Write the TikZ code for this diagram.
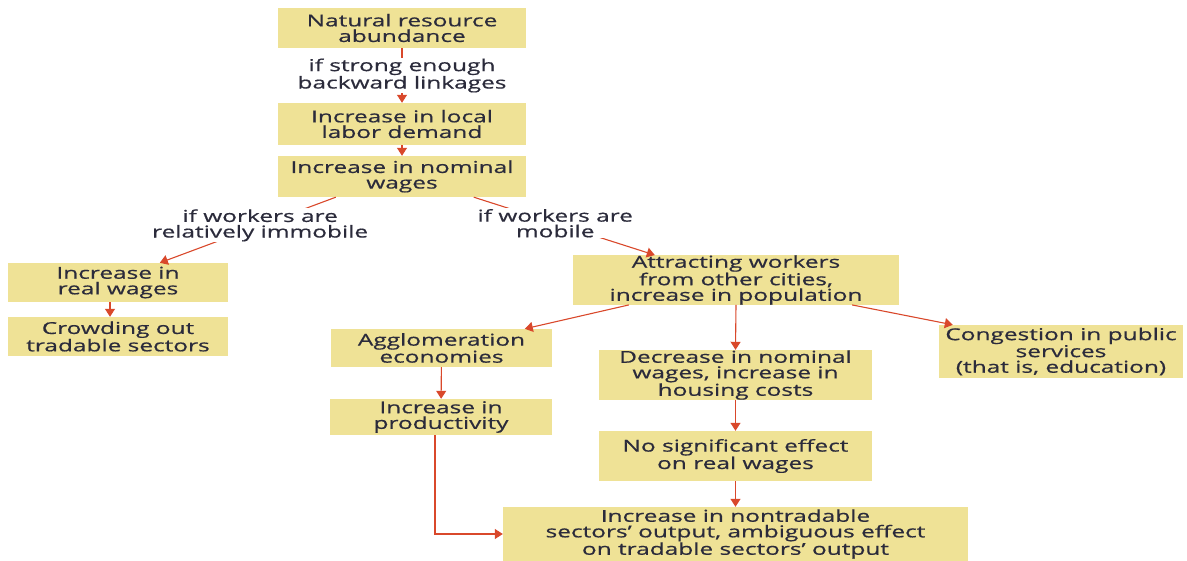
\documentclass[tikz,border=0pt]{standalone}
\usepackage{fontspec}
\setmainfont{Open Sans}[FakeStretch=1.49, FakeBold=0.6]
\usetikzlibrary{arrows.meta}
\definecolor{boxfill}{HTML}{EFE296}
\definecolor{arrowred}{HTML}{D9482B}
\definecolor{inktext}{HTML}{2B2B3B}
\tikzset{
  box/.style={fill=boxfill, inner sep=0pt, align=center, text=inktext,
    font=\fontsize{16.4}{15.6}\selectfont},
  lbl/.style={fill=white, inner sep=1pt, align=center, text=inktext,
    font=\fontsize{16.4}{15.6}\selectfont},
  arr/.style={draw=arrowred, line width=1.1pt, -{Triangle[length=8pt,width=10pt]}},
}
\begin{document}
\begin{tikzpicture}[x=1pt, y=-1pt]
  \useasboundingbox (0,0) rectangle (1187,561);
  % boxes
  \node[box, minimum width=248, minimum height=40] (nat) at (402,28) {Natural resource\\abundance};
  \node[box, minimum width=248, minimum height=42] (local) at (402,124) {Increase in local\\labor demand};
  \node[box, minimum width=248, minimum height=41] (nominal) at (402,176.5) {Increase in nominal\\wages};
  \node[box, minimum width=220, minimum height=39] (real) at (118,282.5) {Increase in\\real wages};
  \node[box, minimum width=220, minimum height=39] (crowd) at (118,336.5) {Crowding out\\tradable sectors};
  \node[box, minimum width=326, minimum height=48] (attract) at (736,280) {Attracting workers\\from other cities,\\increase in population};
  \node[box, minimum width=221, minimum height=38] (agglom) at (441.5,348) {Agglomeration\\economies};
  \node[box, minimum width=222, minimum height=36] (prod) at (441,417) {Increase in\\productivity};
  \node[box, minimum width=273, minimum height=50] (decr) at (735.5,375) {Decrease in nominal\\wages, increase in\\housing costs};
  \node[box, minimum width=273, minimum height=50] (nosig) at (735.5,456) {No significant effect\\on real wages};
  \node[box, minimum width=244, minimum height=53] (cong) at (1061,351.5) {Congestion in public\\services\\(that is, education)};
  \node[box, minimum width=465, minimum height=54] (nontrad) at (735.5,534) {Increase in nontradable\\sectors’ output, ambiguous effect\\on tradable sectors’ output};
  % connectors
  \draw[arr] (nat) -- node[lbl] {if strong enough\\backward linkages} (local);
  \draw[arr] (local) -- (nominal);
  \draw[arr] ([xshift=58pt]nominal.south west) -- node[lbl, pos=0.43] {if workers are\\relatively immobile} ([xshift=152pt]real.north west);
  \draw[arr] ([xshift=196pt]nominal.south west) -- node[lbl, pos=0.45] {if workers are\\mobile} ([xshift=82pt]attract.north west);
  \draw[arr] ([xshift=-8pt]real.south) -- ([xshift=-8pt]crowd.north);
  \draw[arr] ([xshift=56pt]attract.south west) -- ([xshift=194pt]agglom.north west);
  \draw[arr] (attract.south) -- (decr.north);
  \draw[arr] ([xshift=-47pt]attract.south east) -- ([xshift=14pt]cong.north west);
  \draw[arr] (agglom) -- (prod);
  \draw[arr] (decr) -- (nosig);
  \draw[arr] (nosig) -- (nontrad);
  \draw[arr] ([xshift=-6pt]prod.south) |- (nontrad.west);
\end{tikzpicture}
\end{document}
